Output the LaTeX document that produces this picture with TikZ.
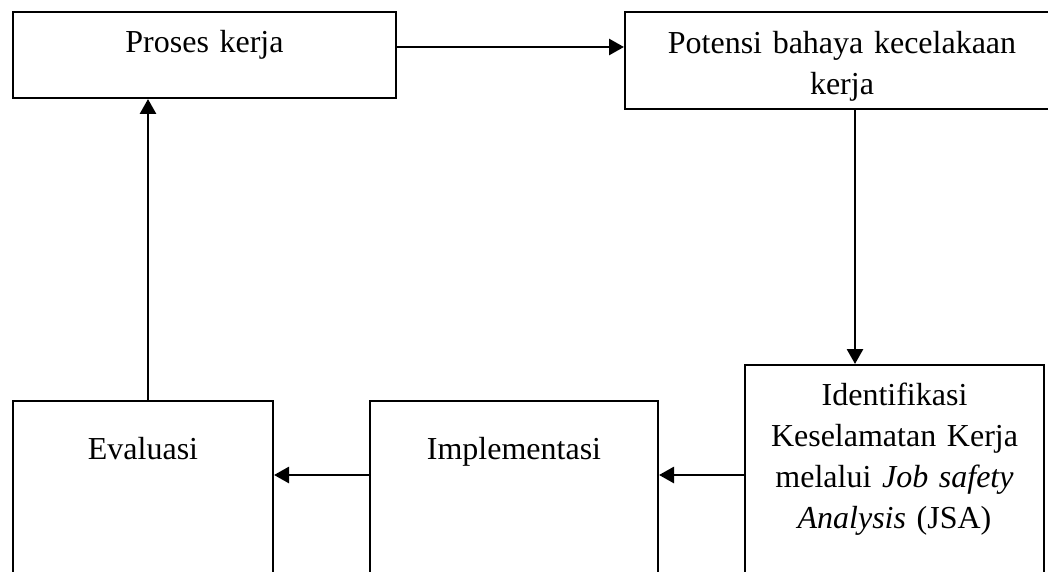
\documentclass[tikz,border=0pt]{standalone}
\usepackage{fontspec}
\setmainfont{Liberation Serif}
\usetikzlibrary{arrows.meta}
\tikzset{
  kotak/.style={draw, line width=1pt, anchor=north west, inner xsep=0pt, inner ysep=0pt, align=center, font=\fontsize{16}{20.5}\selectfont},
  panah/.style={line width=1.4pt, -{Triangle[length=7.5pt,width=8pt]}}
}
\begin{document}
\begin{tikzpicture}[x=0.5pt, y=-0.5pt]
\useasboundingbox (0,0) rectangle (1048,572);
\clip (0,0) rectangle (1048,572);
\coordinate (ya) at (0,47);
\coordinate (xb) at (855,0);
\coordinate (yc) at (0,475);
\coordinate (xd) at (148,0);

\node[kotak, text width=191.5pt, text height=20.5pt, text depth=22.5pt] (proses) at (12,11) {Proses kerja};
\node[kotak, text width=217pt, text height=21pt, text depth=27.5pt] (potensi) at (624,11) {Potensi bahaya kecelakaan\\kerja};
\node[kotak, text width=149.5pt, text height=20pt, text depth=120pt] (identifikasi) at (744,364) {Identifikasi\\Keselamatan Kerja\\melalui \textit{Job safety}\\\textit{Analysis} (JSA)};
\node[kotak, text width=144pt, text height=29pt, text depth=120pt] (implementasi) at (369,400) {Implementasi};
\node[kotak, text width=130pt, text height=29pt, text depth=120pt] (evaluasi) at (12,400) {Evaluasi};

\draw[panah] (proses.east |- ya) -- (potensi.west |- ya);
\draw[panah] (potensi.south -| xb) -- (identifikasi.north -| xb);
\draw[panah] (identifikasi.west |- yc) -- (implementasi.east |- yc);
\draw[panah] (implementasi.west |- yc) -- (evaluasi.east |- yc);
\draw[panah] (evaluasi.north -| xd) -- (proses.south -| xd);
\end{tikzpicture}
\end{document}
